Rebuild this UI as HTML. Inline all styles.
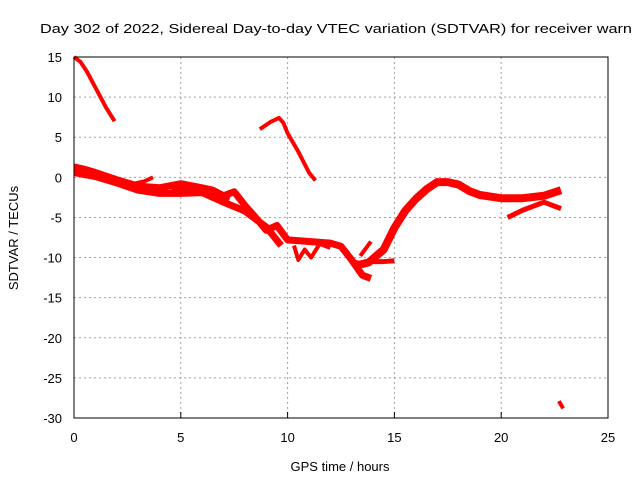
<!DOCTYPE html>
<html><head><meta charset="utf-8"><style>
body{margin:0;background:#fff}
svg text{font-family:"Liberation Sans",sans-serif;font-size:13px;fill:#000}
</style></head><body>
<svg id="c" width="640" height="480">
<text x="40" y="33" textLength="592" lengthAdjust="spacingAndGlyphs">Day 302 of 2022, Sidereal Day-to-day VTEC variation (SDTVAR) for receiver warn</text>
<text x="340" y="471" text-anchor="middle">GPS time / hours</text>
<text transform="translate(18,238) rotate(-90)" text-anchor="middle">SDTVAR / TECUs</text>
<g id="grid"></g><g id="marks"></g>
<rect x="74" y="57" width="534" height="361" fill="none" stroke="#000" stroke-width="1"/>
</svg>
<script>
const xTicks=[0,5,10,15,20,25];
const yTicks=[15,10,5,0,-5,-10,-15,-20,-25,-30];
const seriesHigh=[[0,15],[0.3,14.4],[0.6,13.2],[1,11.2],[1.5,8.7],[1.9,7]];
const seriesPeak=[[8.7,6],[9.2,6.9],[9.6,7.4],[9.8,6.8],[10,5.5],[10.5,3.2],[11,0.6],[11.3,-0.4]];
const seriesUpper=[[0,1.3],[0.5,1],[1,0.6],[2,-0.3],[3,-1.1],[4,-1.3],[5,-0.8],[6,-1.3],[6.5,-1.6],[7,-2.3],[7.5,-1.8],[8,-3.5],[8.5,-5],[9,-6.6],[9.5,-6],[10,-7.8],[11,-8],[12,-8.2],[12.5,-8.6],[13,-10.3],[13.5,-12.2],[13.9,-12.6]];
const seriesLower=[[0,0.6],[1,0.1],[2,-0.7],[3,-1.6],[4,-2],[5,-2],[6,-1.9],[7,-3.1],[8,-4.2],[9,-6.2],[9.7,-8.5]];
const seriesMid=[[4.5,-1.2],[5,-1.5],[5.5,-1.2],[6,-1.6],[6.8,-2.2],[7.3,-2.6]];
const seriesNoise=[[10.3,-8.5],[10.5,-10.3],[10.8,-9],[11.1,-10],[11.5,-8.3],[12,-8.8]];
const seriesFlat=[[13,-10.5],[13.5,-10.8],[14,-10.5],[14.5,-10.5],[15,-10.4]];
const seriesSpike=[[2.8,-0.8],[3.3,-0.5],[3.7,0]];
const seriesRise=[[13.2,-11],[13.8,-10.6],[14.5,-9],[15,-6.3],[15.5,-4.2],[16,-2.7],[16.5,-1.5],[17,-0.6],[17.5,-0.6],[18,-0.9],[18.5,-1.7],[19,-2.2],[20,-2.6],[21,-2.6],[22,-2.3],[22.8,-1.6]];
const seriesBranch=[[13.4,-9.8],[13.9,-8]];
const seriesFork=[[20.3,-5],[21,-4.1],[22,-3.1],[22.8,-3.9]];
const seriesTail=[[22.7,-27.9],[22.9,-28.8]];
const allSeries=[["high",seriesHigh,4],["peak",seriesPeak,4],["upper",seriesUpper,7],["lower",seriesLower,7],["mid",seriesMid,5],["noise",seriesNoise,4],["flat",seriesFlat,5],["spike",seriesSpike,4],["rise",seriesRise,8],["branch",seriesBranch,4],["fork",seriesFork,5],["tail",seriesTail,4]];
const X0=74,X1=608,Y0=418,Y1=57;
const sx=v=>X0+(v-0)/(25-0)*(X1-X0);
const sy=v=>Y0-(v+30)/(15+30)*(Y0-Y1);
const NS="http://www.w3.org/2000/svg";
const grid=document.getElementById('grid'),marks=document.getElementById('marks'),svg=document.getElementById('c');
xTicks.forEach(t=>{
 if(t>0&&t<25){const l=document.createElementNS(NS,'line');l.setAttribute('x1',sx(t));l.setAttribute('x2',sx(t));l.setAttribute('y1',Y1);l.setAttribute('y2',Y0);l.setAttribute('stroke','#a0a0a0');l.setAttribute('stroke-dasharray','2,3');
 
 grid.appendChild(l);}
 const k=document.createElementNS(NS,'line');k.setAttribute('x1',sx(t));k.setAttribute('x2',sx(t));k.setAttribute('y1',Y0);k.setAttribute('y2',Y0-6);k.setAttribute('stroke','#000');
 
 grid.appendChild(k);
 const tx=document.createElementNS(NS,'text');tx.setAttribute('x',sx(t));tx.setAttribute('y',442);tx.setAttribute('text-anchor','middle');tx.textContent=t;
 
 svg.appendChild(tx);
});
yTicks.forEach(t=>{
 if(t<15&&t>-30){const l=document.createElementNS(NS,'line');l.setAttribute('x1',X0);l.setAttribute('x2',X1);l.setAttribute('y1',sy(t));l.setAttribute('y2',sy(t));l.setAttribute('stroke','#a0a0a0');l.setAttribute('stroke-dasharray','2,3');
 
 grid.appendChild(l);}
 const tx=document.createElementNS(NS,'text');tx.setAttribute('x',62);tx.setAttribute('y',sy(t)+5);tx.setAttribute('text-anchor','end');tx.textContent=t;
 
 svg.appendChild(tx);
});
allSeries.forEach(([n,pts,w])=>{
 const p=document.createElementNS(NS,'polyline');
 p.setAttribute('points',pts.map(q=>sx(q[0])+','+sy(q[1])).join(' '));
 p.setAttribute('fill','none');p.setAttribute('stroke','#ff0000');p.setAttribute('stroke-width',w);p.setAttribute('stroke-linejoin','round');
 
 
 marks.appendChild(p);
});
</script>
</body></html>
